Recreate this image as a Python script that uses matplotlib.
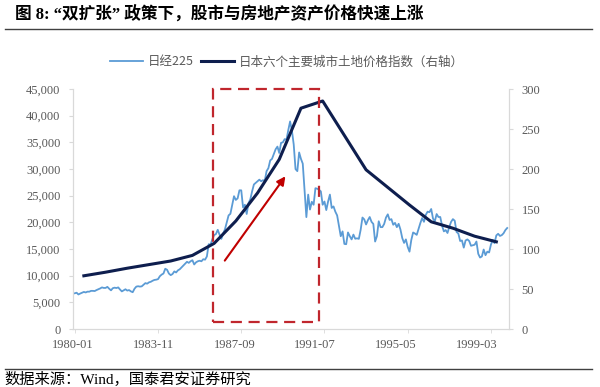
import numpy as np
import matplotlib
matplotlib.use('Agg')
import matplotlib.pyplot as plt
from matplotlib.patches import Rectangle
from matplotlib.ticker import StrMethodFormatter

# Nikkei 225, monthly, 1980-01 .. 1999-12
nikkei = [
    6700, 6800, 6475, 6650, 6800, 6950, 6850, 7000, 7000, 7150, 7150, 7116,
    7300, 7450, 7600, 7800, 7700, 7700, 7900, 7550, 7250, 7650, 7750, 7682,
    7800, 7400, 7050, 7250, 7450, 7200, 7300, 7050, 6900, 7550, 7950, 8017,
    7950, 8000, 8300, 8600, 8500, 8750, 8850, 9050, 9200, 9250, 9350, 9894,
    10200, 10400, 11300, 11100, 10400, 10100, 10300, 10800, 10600, 11000, 11200, 11543,
    11900, 12200, 12600, 12400, 12700, 12900, 12100, 12500, 12700, 12800, 12700, 13083,
    13000, 13600, 15900, 15800, 16800, 17600, 17800, 18600, 17700, 16900, 17900, 18701,
    20000, 21300, 21600, 23300, 24900, 24200, 24500, 26000, 26000, 22800, 23300, 21564,
    23600, 24300, 25800, 27100, 27400, 27700, 28000, 27700, 27900, 27800, 29600, 30159,
    31600, 31900, 32800, 33700, 34200, 33000, 34900, 35000, 35600, 35500, 37300, 38916,
    37200, 34600, 29980, 29600, 33100, 31900, 31000, 25900, 20984, 25200, 22400, 23849,
    23300, 26400, 26300, 26100, 25800, 23300, 23900, 22300, 23900, 25200, 22700, 22984,
    22000, 21300, 19300, 17400, 18300, 15950, 15900, 18100, 17400, 16800, 17700, 16925,
    17000, 16900, 18600, 20900, 20550, 19600, 20400, 21000, 20100, 19700, 16400, 17417,
    20200, 19100, 19100, 19700, 20900, 21500, 20450, 20600, 19550, 19900, 19100, 19723,
    18650, 17050, 16140, 16800, 15400, 14500, 16700, 18100, 17900, 17650, 18750, 19868,
    20800, 20100, 21400, 22000, 21900, 22500, 20700, 20200, 21550, 21000, 21000, 19361,
    18300, 18550, 18000, 19150, 20100, 20600, 20300, 18200, 17900, 16500, 16600, 15259,
    16600, 16800, 16500, 15600, 15700, 15800, 16400, 14100, 13400, 13600, 14900, 13842,
    14500, 14350, 15800, 16700, 16100, 17550, 17850, 17450, 17600, 17950, 18550, 18934,
]

# six major cities urban land price index, annual
land_years = list(range(1980, 2000))
land_index = [66.5, 71, 76, 80.5, 85, 92, 107, 135, 170, 212,
              276, 285, 242, 199, 177, 155, 134, 126, 116, 109]

tick_labels = ['1980-01', '1983-11', '1987-09', '1991-07', '1995-05', '1999-03']

months = np.arange(len(nikkei))
land_x = (np.array(land_years) - 1980) * 12 + 5

grey = '#595959'
axis_col = '#D9D9D9'
serif_cjk = ['Liberation Serif', 'Noto Sans CJK SC']

fig = plt.figure(figsize=(6, 3.87), dpi=100)
ax = fig.add_axes([73 / 600, 1 - 329 / 387, 436 / 600, 240 / 387])
ax2 = ax.twinx()

l1, = ax.plot(months, nikkei, color='#5B9BD5', lw=1.3, label='日经225')
l2, = ax2.plot(land_x, land_index, color='#0E1E4E', lw=2.2, label='日本六个主要城市土地价格指数（右轴）')

ax.set_xlim(-0.9, 240)
ax.set_ylim(0, 45000)
ax2.set_ylim(0, 300)
ax.set_yticks(np.arange(0, 45001, 5000))
ax.yaxis.set_major_formatter(StrMethodFormatter('{x:,.0f}'))
ax2.set_yticks(np.arange(0, 301, 50))

# label positions sit a little left of the tick marks, as in the original
ax.set_xticks(np.arange(0, 240, 46), minor=True)
ax.set_xticks(np.arange(6) * 44.6 - 1)
ax.set_xticklabels(tick_labels)
ax.tick_params(axis='x', which='major', length=0, pad=7)
ax.tick_params(axis='x', which='minor', length=3, color=axis_col)

for a in (ax, ax2):
    for s in a.spines.values():
        s.set_color(axis_col)
    a.spines['top'].set_visible(False)
    a.tick_params(axis='y', length=3, color=axis_col, pad=6)
    a.tick_params(labelsize=9, labelcolor=grey)
    for t in a.get_xticklabels() + a.get_yticklabels():
        t.set_fontfamily('Liberation Serif')

# highlighted window
rect = Rectangle((76.5, 1300), 135 - 76.5, 45000 - 1300, transform=ax.transData,
                 fill=False, edgecolor='#C0262D', lw=1.6, linestyle=(0, (5, 3)),
                 clip_on=False, zorder=5)
ax2.add_patch(rect)
ax2.annotate('', xy=(117.3, 29060), xytext=(82, 12400),
             xycoords=ax.transData, textcoords=ax.transData,
             arrowprops=dict(arrowstyle='-|>,head_length=0.5,head_width=0.25',
                             color='#C00000', lw=1.5), zorder=6)

fig.legend(handles=[l1, l2], loc='center', bbox_to_anchor=(0.478, 1 - 62 / 387),
           ncol=2, frameon=False, handlelength=2.6,
           columnspacing=0.6, handletextpad=0.4,
           prop={'family': 'Noto Sans CJK SC', 'size': 9})
for t in fig.legends[0].get_texts():
    t.set_color(grey)

fig.text(15 / 600, 1 - 15 / 387, '图 8: “双扩张” 政策下，股市与房地产资产价格快速上涨',
         family=serif_cjk, fontsize=12, fontweight='bold', va='center', ha='left')
fig.add_artist(plt.Line2D([5 / 600, 592 / 600], [1 - 29 / 387] * 2, color='#404040', lw=1))
fig.add_artist(plt.Line2D([5 / 600, 592 / 600], [1 - 369 / 387] * 2, color='#404040', lw=1))
fig.text(4 / 600, 1 - 379 / 387, '数据来源：Wind，国泰君安证券研究',
         family=serif_cjk, fontsize=11, va='center', ha='left')

fig.savefig('out.png', dpi=100)
